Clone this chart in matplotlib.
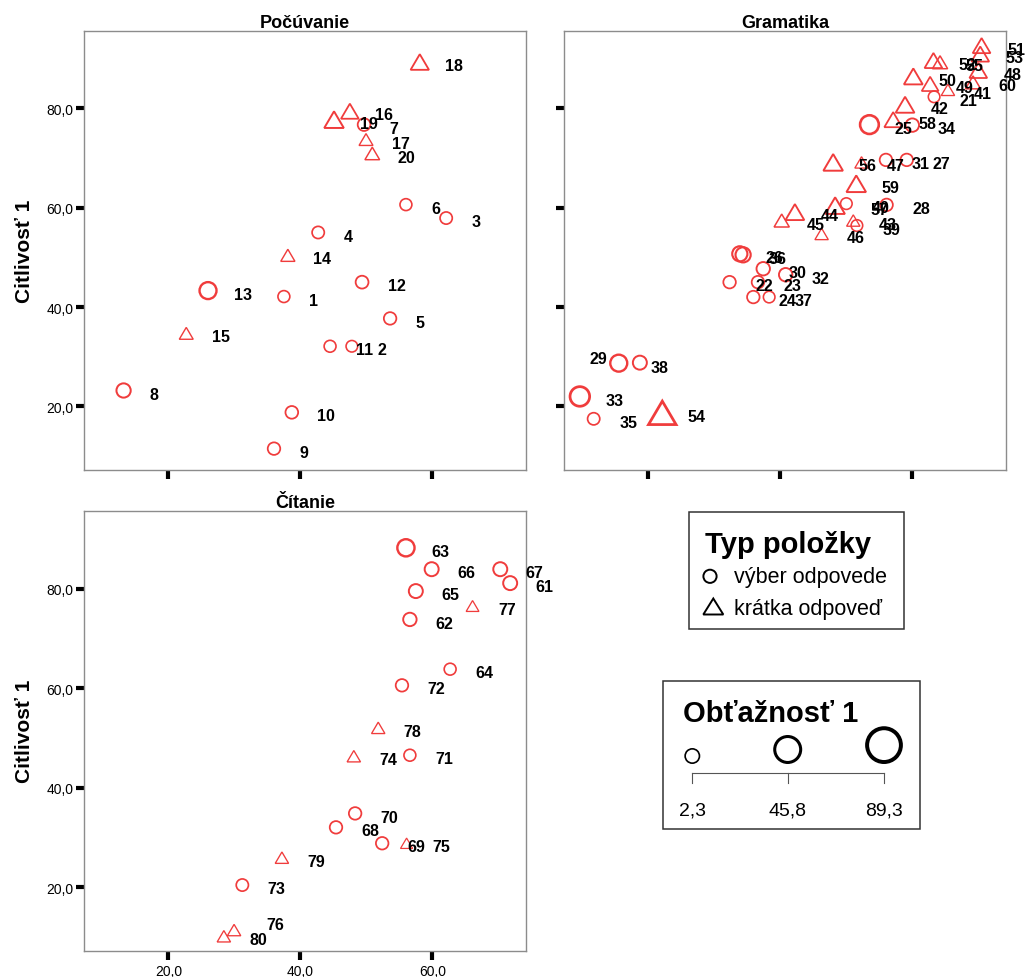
import matplotlib
matplotlib.use('Agg')
import matplotlib.pyplot as plt
import numpy as np
from matplotlib.path import Path
from matplotlib.patches import Rectangle, Circle, Polygon
from matplotlib.lines import Line2D
from matplotlib.ticker import FuncFormatter, FixedLocator

plt.rcParams['font.family'] = ['Liberation Sans', 'DejaVu Sans']

# ---------------- data ----------------
panel_titles = ['Počúvanie', 'Gramatika', 'Čítanie']
y_label = 'Citlivosť 1'
x_ticks = [20, 40, 60]
y_ticks = [20, 40, 60, 80]

# item type: 1 = výber odpovede (circle), 2 = krátka odpoveď (triangle)
listen_ids = list(range(1, 21))
listen_x = [37.5, 47.8, 62.1, 42.7, 53.6, 56.0, 49.65, 13.2, 36.0, 38.7,
            44.5, 49.35, 26.0, 38.1, 22.7, 47.5, 49.95, 58.1, 45.1, 50.9]
listen_y = [42.1, 32.1, 57.9, 55.0, 37.7, 60.6, 76.7, 23.2, 11.5, 18.8,
            32.1, 45.0, 43.3, 50.4, 34.7, 79.4, 73.7, 89.3, 77.7, 70.9]
listen_diff = [20, 18, 22, 22, 24, 20, 25, 36, 24, 25,
               20, 26, 58, 10, 9, 25, 9, 28, 34, 12]
listen_type = [1] * 13 + [2] * 7

gram_ids = list(range(21, 61))
gram_x = [63.3, 32.3, 36.6, 35.9, 53.5, 33.85, 59.15, 56.1, 15.5, 37.4,
          56.0, 40.8, 9.6, 60.0, 11.7, 34.35, 38.3, 18.7, 51.6, 50.0,
          65.4, 58.9, 51.05, 42.2, 40.2, 46.25, 52.3, 70.0, 62.7, 60.15,
          70.5, 63.2, 70.3, 22.1, 64.2, 48.0, 48.3, 57.1, 51.5, 69.2]
gram_y = [82.3, 45.0, 45.0, 42.0, 76.7, 50.7, 69.6, 60.55, 28.7, 47.7,
          69.6, 46.5, 22.0, 76.6, 17.5, 50.5, 42.0, 28.8, 56.4, 60.8,
          83.7, 80.7, 57.4, 59.1, 57.4, 54.7, 69.1, 87.6, 84.9, 86.4,
          92.6, 89.6, 90.9, 18.7, 89.25, 69.1, 60.4, 77.7, 64.8, 85.2]
gram_diff = [18, 24, 24, 24, 74, 43, 24, 24, 58, 30,
             24, 30, 83, 30, 22, 43, 18, 34, 18, 18,
             7, 30, 7, 30, 14, 7, 7, 25, 21, 30,
             25, 25, 25, 84, 14, 34, 34, 25, 34, 14]
gram_type = [1] * 20 + [2] * 20

read_ids = list(range(61, 81))
read_x = [71.8, 56.6, 56.0, 62.7, 57.5, 59.9, 70.3, 45.4, 52.4, 48.3,
          56.6, 55.4, 31.2, 48.1, 56.1, 29.95, 66.1, 51.8, 37.2, 28.4]
read_y = [81.1, 73.8, 88.2, 63.8, 79.5, 83.9, 83.9, 32.0, 28.8, 34.8,
          46.5, 60.55, 20.4, 46.3, 28.8, 11.35, 76.5, 52.0, 25.9, 10.1]
read_diff = [34, 30, 60, 20, 34, 34, 34, 24, 24, 24,
             20, 24, 22, 7, 3, 7, 5, 7, 7, 7]
read_type = [1] * 13 + [2] * 7

legend_type_title = 'Typ položky'
legend_type_labels = ['výber odpovede', 'krátka odpoveď']
legend_size_title = 'Obťažnosť 1'
legend_size_values = [2.3, 45.8, 89.3]

# label placement tweaks (pixels: dx to text anchor, dy of text centre, ha)
label_tweaks = {29: (-11.6, -6.0, 'right'), 38: (10.4, 3.7, 'left'),
                57: (35.0, 2.5, 'left'), 76: (32.0, -7.0, 'left')}

# ---------------- style ----------------
RED = '#F03C3C'
W, H = 1028, 978
PT = 72 / 100.0
fig = plt.figure(figsize=(W / 100, H / 100), dpi=100)


def px_axes(l, t, r, b):
    return fig.add_axes([l / W, 1 - b / H, (r - l) / W, (b - t) / H])


def legend_diam(diff):
    return np.sqrt(256 + 13.45 * (np.asarray(diff, dtype=float) - 2.3))


def plot_diam(diff):
    return 0.535 * legend_diam(diff)


tri_path = Path([(-0.5, -0.425), (0.5, -0.425), (0.0, 0.425), (-0.5, -0.425)],
                [Path.MOVETO, Path.LINETO, Path.LINETO, Path.CLOSEPOLY])

fmt = FuncFormatter(lambda v, p: ('%.1f' % v).replace('.', ','))

ax1 = px_axes(84, 31.7, 526, 471)
ax2 = px_axes(564, 31.7, 1006, 471)
ax3 = px_axes(84, 512, 526, 951.7)

panels = [
    (ax1, listen_ids, listen_x, listen_y, listen_diff, listen_type, panel_titles[0], False, True),
    (ax2, gram_ids, gram_x, gram_y, gram_diff, gram_type, panel_titles[1], False, False),
    (ax3, read_ids, read_x, read_y, read_diff, read_type, panel_titles[2], True, True),
]

for ax, ids, xs, ys, diffs, types, title, xlab, ylab in panels:
    ax.set_xlim(7.2, 74.2)
    ax.set_ylim(7.2, 95.6)
    xs = np.asarray(xs); ys = np.asarray(ys)
    d = plot_diam(diffs)
    types = np.asarray(types)
    for t, marker, scale in [(1, 'o', 1.0), (2, tri_path, 1.4)]:
        m = types == t
        size_pt = d[m] * scale * PT
        sc = ax.scatter(xs[m], ys[m], s=size_pt ** 2, marker=marker,
                        facecolors='none', edgecolors=RED,
                        linewidths=0.14 * d[m] * PT, zorder=3, clip_on=False)
        sc.set_joinstyle('miter')
    for i, x, y in zip(ids, xs, ys):
        dx, dy, ha = label_tweaks.get(i, (25.5, 2.5, 'left'))
        ax.annotate(str(i), (x, y), xytext=(dx * PT, -(dy + 5.6) * PT),
                    textcoords='offset points', ha=ha, va='baseline',
                    fontsize=11.5, fontweight='bold', zorder=4,
                    annotation_clip=False)
    ax.set_title(title, fontsize=13, fontweight='bold', pad=3)
    ax.xaxis.set_major_locator(FixedLocator(x_ticks))
    ax.yaxis.set_major_locator(FixedLocator(y_ticks))
    ax.xaxis.set_major_formatter(fmt)
    ax.yaxis.set_major_formatter(fmt)
    ax.tick_params(axis='x', direction='out', length=6.5, width=3, color='black',
                   labelsize=10, pad=3, labelbottom=xlab)
    ax.tick_params(axis='y', direction='out', length=5.8, width=3, color='black',
                   labelsize=10, pad=2, labelleft=ylab)
    for s in ax.spines.values():
        s.set_color('#8c8c8c')
        s.set_linewidth(1.0)

fig.text(24.4 / W, 1 - 251.3 / H, y_label, rotation=90, ha='center', va='center',
         fontsize=15, fontweight='bold')
fig.text(24.4 / W, 1 - 731.8 / H, y_label, rotation=90, ha='center', va='center',
         fontsize=15, fontweight='bold')

# ---------------- legends (drawn in pixel space) ----------------
lg = fig.add_axes([0, 0, 1, 1])
lg.set_xlim(0, W)
lg.set_ylim(H, 0)
lg.axis('off')
lg.patch.set_visible(False)

lg.add_patch(Rectangle((689.3, 513.3), 215, 116.7, facecolor='white',
                       edgecolor='#333333', lw=1.1))
lg.text(705, 553.3, legend_type_title, fontsize=21, fontweight='bold', va='baseline')
lg.add_patch(Circle((710, 577.3), 6.6, facecolor='none', edgecolor='black', lw=1.4))
lg.text(734, 583.3, legend_type_labels[0], fontsize=15.5, va='baseline')
lg.add_patch(Polygon([(703.3, 615.5), (723.3, 615.5), (713.3, 599.5)], closed=True,
                     facecolor='none', edgecolor='black', lw=1.4, joinstyle='miter'))
lg.text(734, 615, legend_type_labels[1], fontsize=15.5, va='baseline')

lg.add_patch(Rectangle((663.3, 681.7), 256.7, 148.3, facecolor='white',
                       edgecolor='#333333', lw=1.1))
lg.text(682.7, 721.7, legend_size_title, fontsize=21, fontweight='bold', va='baseline')
lx = [692.3, 787.7, 884.0]
ld = legend_diam(legend_size_values)
for x, dd in zip(lx, ld):
    lw_px = dd * 0.105
    r = dd / 2 - lw_px / 2
    lg.add_patch(Circle((x, 765 - dd / 2), r, facecolor='none', edgecolor='black',
                        lw=lw_px * PT))
lg.add_line(Line2D([lx[0], lx[-1]], [774, 774], color='#555555', lw=0.8))
for x, v in zip(lx, legend_size_values):
    lg.add_line(Line2D([x, x], [774, 784], color='#555555', lw=0.8))
    lg.text(x, 815, ('%.1f' % v).replace('.', ','), fontsize=14, ha='center', va='baseline')

fig.savefig('out.png', dpi=100)
